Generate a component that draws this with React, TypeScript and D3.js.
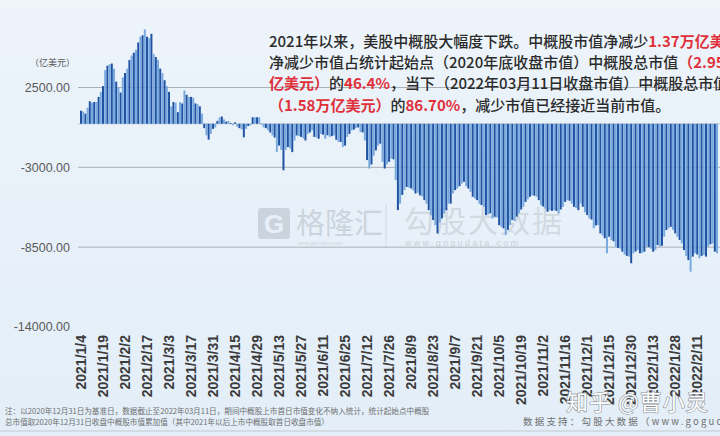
import React from 'react';
import * as d3 from 'd3';

// Daily cumulative change of Chinese ADR market value since 2020-12-31 (亿美元)
const values: number[] = [
  900, 850, 700, 1100, 1550, 1450, 1500, 1500, 1850, 2200,
  2600, 3700, 4000, 4100, 4150, 3800, 2900, 2500, 2150, 3200,
  3500, 3800, 4400, 4700, 4900, 5100, 5600, 6000, 6100, 6500,
  6000, 5900, 6200, 4800, 4600, 4400, 3800, 3500, 3000, 2600,
  2200, 1200, 1500, 1450, 800, 1500, 1400, 2300, 2000, 1850,
  1850, 1800, 1400, 1350, 1200, 700, -300, -800, -1090, -700,
  -350, -250, 200, 450, 500, 300, 150, 200, 50, -100,
  100, -200, -300, -400, -930, -350, -150, -100, 450, 450,
  450, 450, 0, -250, -300, -450, -600, -800, -950, -1940,
  -1500, -1800, -3200, -1800, -1600, -1700, -1950, -1150, -800, -850,
  -900, -1000, -1150, -700, -600, -450, -900, -950, -1030, -700,
  -750, -1030, -790, -900, -850, -800, -1100, -1250, -1250, -1600,
  -1500, -900, -700, -450, -400, -300, -250, -570, -600, -1150,
  -2500, -3080, -2800, -2200, -1830, -1500, -1370, -2620, -3080, -2800,
  -2620, -2400, -2450, -3880, -5950, -5500, -4900, -4570, -4350, -4400,
  -4450, -4600, -4800, -4750, -4930, -5000, -5260, -5500, -5950, -6300,
  -6630, -6980, -7550, -6800, -6520, -6200, -5950, -5500, -5500, -4800,
  -4570, -4460, -4300, -4120, -4000, -4300, -4460, -4690, -5030, -5150,
  -5260, -5500, -5600, -5720, -6290, -6250, -6170, -6520, -6400, -6450,
  -6980, -7100, -7200, -7670, -7300, -6980, -6630, -6700, -6400, -6170,
  -5900, -5720, -5380, -5200, -5030, -4930, -4950, -5030, -5260, -5610,
  -5700, -5840, -6060, -5950, -6000, -5950, -6000, -6170, -5900, -5720,
  -5380, -5260, -5300, -5500, -5720, -5800, -5950, -5500, -5720, -6100,
  -6290, -6520, -6600, -7200, -7000, -6980, -7550, -7700, -7890, -8920,
  -7780, -8000, -8100, -8470, -8550, -8600, -8810, -9000, -9100, -9150,
  -9610, -8920, -8800, -8700, -8920, -8900, -8810, -8470, -8500, -8600,
  -8810, -8700, -8350, -8470, -8400, -7780, -7320, -7200, -7100, -7300,
  -7550, -7780, -8000, -8240, -8700, -9100, -9390, -10190, -9150, -8920,
  -9000, -9270, -9100, -9040, -9150, -8470, -8300, -8240, -8810, -8920,
];

const tickLabels: string[] = [
  '2021/1/4', '2021/1/19', '2021/2/2', '2021/2/17', '2021/3/3', '2021/3/17',
  '2021/3/31', '2021/4/15', '2021/4/29', '2021/5/13', '2021/5/27', '2021/6/11',
  '2021/6/25', '2021/7/12', '2021/7/26', '2021/8/9', '2021/8/23', '2021/9/7',
  '2021/9/21', '2021/10/5', '2021/10/19', '2021/11/2', '2021/11/16', '2021/12/1',
  '2021/12/15', '2021/12/30', '2022/1/13', '2022/1/28', '2022/2/11',
];
const tickEvery = 10;

const yTicks: number[] = [2500, -3000, -8500, -14000];
const gridTicks: number[] = [2500, -3000, -8500];

const unitLabel = '（亿美元）';

// annotation lines: [text, isRed]
const noteLines: [string, boolean][][] = [
  [['2021年以来，美股中概股大幅度下跌。中概股市值净减少', false], ['1.37万亿美元，', true]],
  [['净减少市值占统计起始点（2020年底收盘市值）中概股总市值', false], ['（2.95万', true]],
  [['亿美元）', true], ['的', false], ['46.4%', true], ['，当下（2022年03月11日收盘市值）中概股总市值', false]],
  [['（1.58万亿美元）', true], ['的', false], ['86.70%', true], ['，减少市值已经接近当前市值。', false]],
];

const footLines: string[] = [
  '注：以2020年12月31日为基准日，数据截止至2022年03月11日，期间中概股上市首日市值变化不纳入统计，统计起始点中概股',
  '总市值取2020年12月31日收盘中概股市值累加值（其中2021年以后上市中概股取首日收盘市值）',
];
const sourceText = '数据支持：勾股大数据（www.gogudata.com）';

const CJK = '"Noto Sans CJK SC", "Noto Sans", sans-serif';
const SANS = '"Liberation Sans", Arial, sans-serif';

export default function App() {
  const W = 720;
  const H = 436;
  const x = d3
    .scaleBand<number>()
    .domain(d3.range(values.length))
    .range([80, 718])
    .paddingInner(0.1);
  const y = d3.scaleLinear().domain([-14000, 2500]).range([327, 87.5]);
  const bw = x.bandwidth();

  return (
    <svg
      width={W}
      height={H}
      viewBox={`0 0 ${W} ${H}`}
      style={{ position: 'absolute', left: 0, top: 0, display: 'block' }}
    >
      <defs>
        <linearGradient id="bg" x1="0" y1="0" x2="0" y2="1">
          <stop offset="0" stopColor="#edf4fa" />
          <stop offset="1" stopColor="#e3eef8" />
        </linearGradient>
      </defs>
      <rect x={0} y={0} width={W} height={H} fill="url(#bg)" />

      {/* watermarks */}
      <g opacity={0.45}>
        <rect x={258} y={208} width={32} height={31} rx={3} fill="#a9b3bd" />
        <text x={274} y={233} textAnchor="middle" fontFamily={SANS} fontWeight="bold" fontSize={26} fill="#e6eff7">G</text>
        <text x={296} y={234} fontFamily={CJK} fontSize={29} fill="#a9b3bd">格隆汇</text>
        <text x={298} y={245} fontFamily={SANS} fontSize={5} fill="#a9b3bd">www.gelonghui.com</text>
        <line x1={386} x2={386} y1={204} y2={248} stroke="#b4bcc4" strokeWidth={1} />
        <text x={404} y={232} fontFamily={CJK} fontSize={30} fill="#b6bec6" letterSpacing={2}>勾股大数据</text>
        <text x={405} y={246} fontFamily={SANS} fontSize={9} fill="#a0a9b2" letterSpacing={2.3}>www.gogudata.com</text>
      </g>

      {/* grid */}
      {gridTicks.map((t) => (
        <line key={t} x1={78} x2={W} y1={y(t)} y2={y(t)} stroke="#aab0b6" strokeWidth={1} />
      ))}
      <line x1={78} x2={W} y1={y(0)} y2={y(0)} stroke="#b9c0c7" strokeWidth={0.8} />

      {/* bars */}
      {values.map((v, i) => {
        const y0 = y(0);
        const y1 = y(v);
        return (
          <rect
            key={i}
            x={x(i)}
            y={Math.min(y0, y1)}
            width={bw}
            height={Math.max(0.5, Math.abs(y1 - y0))}
            fill={i % 2 === 0 ? '#1f52a2' : '#78aae0'}
          />
        );
      })}

      {/* y axis labels */}
      <text x={30} y={66} fontFamily={CJK} fontSize={9} fill="#555">{unitLabel}</text>
      {yTicks.map((t) => (
        <text
          key={t}
          x={70}
          y={y(t)}
          dy="0.35em"
          textAnchor="end"
          fontFamily={SANS}
          fontSize={12.5}
          fill="#5a5a5a"
        >
          {t.toFixed(2)}
        </text>
      ))}

      {/* x axis labels */}
      {tickLabels.map((lab, k) => {
        const i = k * tickEvery;
        const cx = (x(i) ?? 0) + bw / 2;
        return (
          <text
            key={lab}
            transform={`translate(${cx},335) rotate(-90)`}
            dy="0.35em"
            textAnchor="end"
            fontFamily={SANS}
            fontWeight="bold"
            fontSize={14}
            fill="#3b3b3b"
          >
            {lab}
          </text>
        );
      })}

      {/* annotation */}
      {noteLines.map((parts, li) => (
        <text key={li} x={269} y={47 + li * 21.2} fontFamily={CJK} fontSize={15} fontWeight={500}>
          {parts.map(([s, red], pi) => (
            <tspan key={pi} fill={red ? '#e0303a' : '#2b2b2b'} fontWeight={red ? 'bold' : 500}>
              {s}
            </tspan>
          ))}
        </text>
      ))}

      {/* footnotes */}
      {footLines.map((s, i) => (
        <text key={i} x={5} y={414 + i * 10.5} fontFamily={CJK} fontSize={7.6} fill="#6e6e6e">
          {s}
        </text>
      ))}
      <text x={523} y={425} fontFamily={CJK} fontSize={9.5} fill="#6e6e6e" letterSpacing={2.2}>
        {sourceText}
      </text>
      <line x1={0} x2={W} y1={431} y2={431} stroke="#c4c9ce" strokeWidth={1} />

      {/* zhihu watermark */}
      <text
        x={566}
        y={410}
        fontFamily={CJK}
        fontSize={22}
        fill="#ffffff"
        stroke="#8a8f94"
        strokeWidth={1.2}
        paintOrder="stroke"
        letterSpacing={1}
      >
        知乎 @曹小灵
      </text>
    </svg>
  );
}
